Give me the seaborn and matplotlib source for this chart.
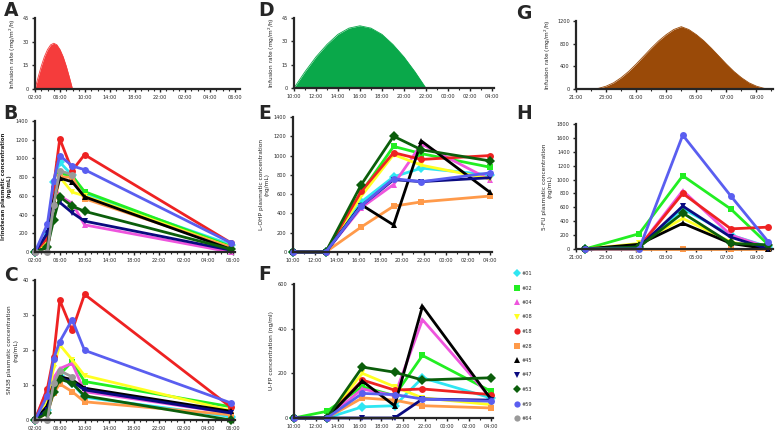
import numpy as np
import pandas as pd
import seaborn as sns
import matplotlib.pyplot as plt
from matplotlib.lines import Line2D

sns.set_style("ticks")
plt.rcParams['font.family'] = ['DejaVu Sans']

# patients and styles
patients = ['#01', '#02', '#04', '#08', '#18', '#28', '#45', '#47', '#53', '#59', '#64']
colors = ['#2fe6f2', '#22ee22', '#ee55dd', '#ffff22', '#ee2222', '#ff9a4a',
          '#000000', '#0a0a80', '#0b5e0b', '#5a5ef0', '#9a9a9a']
markers = ['D', 's', '^', 'v', 'o', 's', '^', 'v', 'D', 'o', 'o']

# infusion profiles (hours from start of axis, rate)
irino_inf_h = [0, 0.5, 1, 1.5, 2, 2.5, 3, 3.5, 4, 4.5, 5, 5.5, 6]
irino_inf = [0, 7.5, 14.5, 20.5, 25, 28, 29, 28, 25, 20.5, 14.5, 7.5, 0]
ohp_inf_h = [0, 1, 2, 3, 4, 5, 6, 7, 8, 9, 10, 11, 12]
ohp_inf = [0, 10.5, 20, 28, 34.5, 38.5, 40, 38.5, 34.5, 28, 20, 10.5, 0]
fu_inf_h = [1, 1.5, 2, 2.5, 3, 3.5, 4, 4.5, 5, 5.5, 6, 6.5, 7, 7.5, 8, 8.5, 9,
            9.5, 10, 10.5, 11, 11.5, 12, 12.5, 13]
fu_inf = [0, 12, 50, 110, 200, 310, 440, 580, 720, 850, 960, 1050, 1100, 1050,
          960, 850, 720, 580, 440, 310, 200, 110, 50, 12, 0]

# irinotecan / SN38 sampling (hours from 02:00)
irino_h = [0, 2, 3, 4, 6, 8, 31.6]
irinotecan = {
    '#01': [0, 200, 750, 960, 820, 620, 80],
    '#02': [0, 100, 600, 840, 815, 645, 60],
    '#04': [0, 120, 700, 600, 520, 290, 0],
    '#08': [0, 100, 500, 800, 640, 600, 50],
    '#18': [0, 150, 700, 1210, 870, 1040, 100],
    '#28': [0, 50, 500, 800, 800, 570, 50],
    '#45': [0, 50, 550, 790, 750, 590, 30],
    '#47': [0, 200, 480, 530, 420, 330, 20],
    '#53': [0, 50, 340, 590, 490, 435, 30],
    '#59': [0, 300, 760, 1030, 920, 880, 100],
    '#64': [0, 0, 500, 870, 825, None, None],
}
sn38 = {
    '#01': [0, 3, 10, 12.5, 10.5, 6.5, 1],
    '#02': [0, 4, 10, 13, 16.7, 11, 3.8],
    '#04': [0, 9, 12, 14.7, 16.2, 8.1, 2],
    '#08': [0, 5, 15, 21.5, 17.2, 12.7, 2.7],
    '#18': [0, 9, 18.1, 34.2, 25.6, 35.9, 3.7],
    '#28': [0, 2, 7.6, 10.3, 8.1, 5.2, 1.5],
    '#45': [0, 4, 10, 12.4, 11.5, 9.1, 2.5],
    '#47': [0, 3, 9, 12, 11, 8.6, 2],
    '#53': [0, 2, 8, 11.7, 10.5, 6.9, 0],
    '#59': [0, 7, 17.5, 22.4, 28.7, 19.9, 4.9],
    '#64': [0, 0, 10.5, 14.1, 12.3, None, None],
}

# L-OHP / U-FP sampling (hours from 10:00)
ohp_h = [0, 3, 6.25, 9.2, 11.75, 18]
lohp = {
    '#01': [0, 0, 520, 780, 870, 800],
    '#02': [0, 0, 620, 1095, 1020, 880],
    '#04': [0, 0, 460, 700, 1120, 750],
    '#08': [0, 0, 580, 1010, 900, 760],
    '#18': [0, 0, 630, 1030, 960, 1000],
    '#28': [None, 0, 260, 475, 520, 580],
    '#45': [0, 0, 490, 280, 1150, 620],
    '#47': [0, 0, 480, 750, 730, 770],
    '#53': [0, 0, 700, 1200, 1060, 945],
    '#59': [0, 0, 480, 760, 730, 820],
}
ufp = {
    '#01': [0, 0, 50, 55, 180, 90],
    '#02': [0, 30, 140, 100, 280, 120],
    '#04': [0, 0, 130, 100, 440, 90],
    '#08': [0, 0, 200, 140, 90, 60],
    '#18': [0, 0, 170, 125, 130, 105],
    '#28': [0, 0, 90, 80, 55, 45],
    '#45': [0, 0, 165, 55, 500, 85],
    '#47': [0, 0, 0, 0, 85, 80],
    '#53': [0, 0, 228, 205, 170, 180],
    '#59': [0, 0, 110, 105, 85, 75],
}

# 5-FU sampling (hours from 21:00)
fu_h = [0.6, 4.2, 7.1, 10.3, 12.8]
fu = {
    '#01': [0, 30, 580, 200, 30],
    '#02': [0, 220, 1055, 575, 60],
    '#04': [0, 30, 840, 200, 20],
    '#08': [0, 80, 440, 100, 0],
    '#18': [0, 30, 800, 290, 315],
    '#28': [0, 0, 0, 0, 0],
    '#45': [0, 68, 370, 80, 0],
    '#47': [0, 30, 617, 170, 0],
    '#53': [0, 30, 518, 80, 60],
    '#59': [0, 0, 1640, 762, 100],
}

ticks_abc = ['02:00', '06:00', '10:00', '14:00', '18:00', '22:00', '02:00', '04:00', '06:00']
ticks_def = ['10:00', '12:00', '14:00', '16:00', '18:00', '20:00', '22:00', '00:00', '02:00', '04:00']
ticks_gh = ['21:00', '23:00', '01:00', '03:00', '05:00', '07:00', '09:00']

W, H = 775, 432
fig = plt.figure(figsize=(W / 100, H / 100), dpi=100)


def box(x0, x1, ytop, ybot):
    return [x0 / W, 1 - ybot / H, (x1 - x0) / W, (ybot - ytop) / H]


def style(ax, xt, xl, yt, xlim, ylim, ylabel, bold=False):
    ax.set_xlim(*xlim)
    ax.set_ylim(*ylim)
    ax.set_xticks(xt)
    ax.set_xticklabels(xl)
    ax.set_xticks(np.arange(0, xlim[1], 1), minor=True)
    ax.set_yticks(yt)
    ax.set_yticklabels([str(v) for v in yt])
    for s in ['top', 'right']:
        ax.spines[s].set_visible(False)
    for s in ['left', 'bottom']:
        ax.spines[s].set_linewidth(1.6)
    ax.tick_params(axis='both', which='major', labelsize=3.6, length=2.5, width=1, pad=2)
    ax.tick_params(axis='x', which='minor', length=1.5, width=0.8)
    ax.set_ylabel(ylabel, fontsize=3.9 if bold else 4.2,
                  fontweight='bold' if bold else 'normal',
                  labelpad=3, linespacing=1.3)
    ax.set_xlabel('')


def infusion(ax, h, r, color):
    sns.lineplot(x=h, y=r, ax=ax, color=color, linewidth=0.6)
    ax.fill_between(h, r, color=color, linewidth=0)


def conc(ax, hours, data):
    for p in data:
        i = patients.index(p)
        vals = np.array([np.nan if v is None else v for v in data[p]], dtype=float)
        sns.lineplot(x=hours, y=vals, ax=ax, color=colors[i], marker=markers[i],
                     markersize=5, markeredgewidth=0, linewidth=2.0, clip_on=False)


rate_label = 'Infusion rate (mg/m$^2$/h)'

# A
ax = fig.add_axes(box(35, 240, 18, 89))
infusion(ax, irino_inf_h, irino_inf, '#f53c3c')
style(ax, range(0, 33, 4), ticks_abc, [0, 15, 30, 45], (0, 32.8), (0, 45), rate_label)
# B
ax = fig.add_axes(box(35, 235, 121, 252))
conc(ax, irino_h, irinotecan)
style(ax, range(0, 33, 4), ticks_abc, list(range(0, 1401, 200)), (0, 32.3), (0, 1400),
      'Irinotecan plasmatic concentration\n(ng/mL)', bold=True)
# C
ax = fig.add_axes(box(35, 235, 280, 420))
conc(ax, irino_h, sn38)
style(ax, range(0, 33, 4), ticks_abc, [0, 10, 20, 30, 40], (0, 32.3), (0, 40),
      'SN38 plasmatic concentration\n(ng/mL)')
# D
ax = fig.add_axes(box(294, 494, 18, 88))
infusion(ax, ohp_inf_h, ohp_inf, '#0aa84a')
style(ax, range(0, 19, 2), ticks_def, [0, 15, 30, 45], (0, 18.2), (0, 45), rate_label)
# E
ax = fig.add_axes(box(293, 492, 117, 252))
conc(ax, ohp_h, lohp)
style(ax, range(0, 19, 2), ticks_def, list(range(0, 1401, 200)), (0, 18.2), (0, 1400),
      'L-OHP plasmatic concentration\n(ng/mL)')
# F
ax = fig.add_axes(box(294, 493, 284, 418))
conc(ax, ohp_h, ufp)
style(ax, range(0, 19, 2), ticks_def, [0, 200, 400, 600], (0, 18.2), (0, 600),
      'U-FP concentration (ng/ml)')
# G
ax = fig.add_axes(box(576, 773, 21, 89))
infusion(ax, fu_inf_h, fu_inf, '#9a4a08')
style(ax, range(0, 13, 2), ticks_gh, [0, 400, 800, 1200], (0, 13.1), (0, 1200), rate_label)
# H
ax = fig.add_axes(box(576, 773, 124, 249))
conc(ax, fu_h, fu)
style(ax, range(0, 13, 2), ticks_gh, list(range(0, 1801, 200)), (0, 13.1), (0, 1800),
      '5-FU plasmatic concentration\n(ng/mL)')

# panel letters
for letter, x, y in [('A', 4, 1), ('B', 3, 104), ('C', 4, 266), ('D', 258, 1),
                     ('E', 258, 104), ('F', 258, 265), ('G', 516, 4), ('H', 516, 104)]:
    fig.text(x / W, 1 - y / H, letter, fontsize=13.5, fontweight='bold', va='top', ha='left')

# legend
handles = [Line2D([], [], color=c, marker=m, linestyle='None', markersize=4.5, markeredgewidth=0)
           for c, m in zip(colors, markers)]
fig.legend(handles, patients, loc='upper left', bbox_to_anchor=(512 / W, 1 - 269 / H),
           frameon=False, fontsize=3.6, labelspacing=1.9, handletextpad=0.6,
           handlelength=1.0, borderaxespad=0)

fig.savefig('out.png', dpi=100)
